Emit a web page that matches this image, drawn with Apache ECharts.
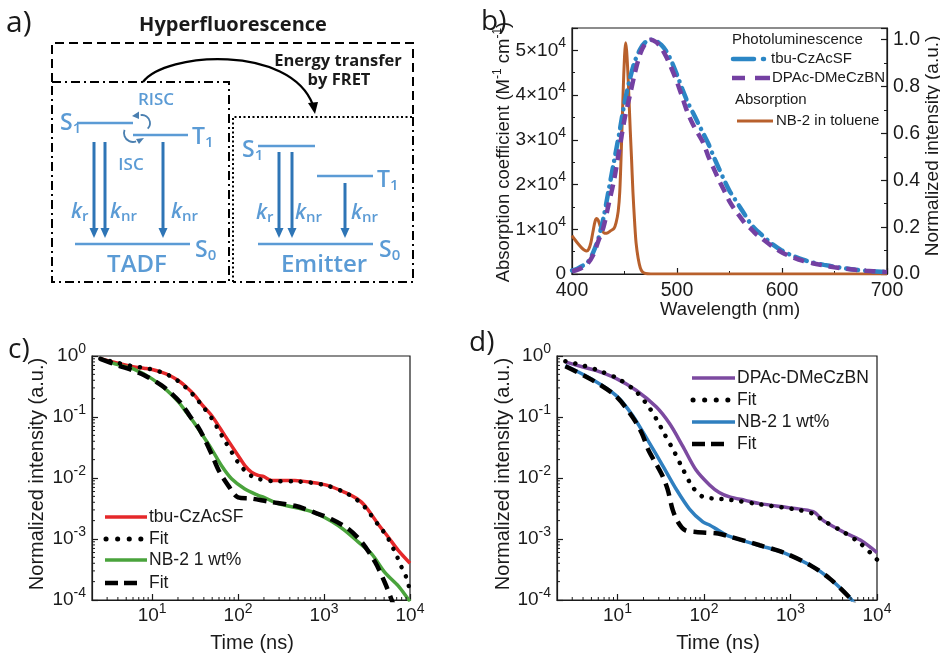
<!DOCTYPE html>
<html><head><meta charset="utf-8">
<script src="https://cdn.jsdelivr.net/npm/echarts@6/dist/echarts.min.js"></script>
<style>html,body{margin:0;padding:0;background:#fff}#c{width:940px;height:654px}</style>
</head><body><div id="c"></div><script>
// ---------- Panel b data ----------
const absWl = [400,403,406,409,412,414,416,418,420,422,423.5,425,427,429,431,434,437,440,442,444,445.5,447,448.7,450,451,452,453,454,455.5,456.7,458,459.8,461,463,465,467,470,475,500,600,700];
const absNB2 = [8600,7600,6700,5900,5300,5150,5600,7000,9500,11800,12400,12000,10600,9600,9100,9200,9700,10200,11500,14000,18400,28000,40700,48500,51700,50000,46000,40700,32000,25800,18500,11000,7000,3500,1400,500,120,0,0,0,0];
const plWl = [400,405,410,415,420,425,430,435,440,445,450,455,460,465,470,475,480,485,490,495,500,505,510,515,520,525,530,535,540,545,550,555,560,565,570,575,580,590,600,610,620,630,640,650,660,670,680,690,700];
const plTbu = [0.015,0.022,0.035,0.05,0.09,0.15,0.24,0.36,0.48,0.6,0.73,0.83,0.91,0.96,0.99,1.0,0.995,0.978,0.95,0.905,0.85,0.79,0.735,0.69,0.645,0.6,0.555,0.5,0.45,0.4,0.355,0.32,0.285,0.25,0.215,0.19,0.17,0.13,0.1,0.078,0.061,0.048,0.039,0.031,0.024,0.018,0.014,0.011,0.008];
const plDPAc = [0.012,0.018,0.028,0.045,0.08,0.14,0.2,0.3,0.4,0.53,0.66,0.76,0.86,0.94,0.985,1.0,0.99,0.965,0.925,0.875,0.82,0.755,0.69,0.64,0.6,0.56,0.5,0.45,0.4,0.355,0.31,0.275,0.245,0.215,0.195,0.172,0.155,0.12,0.092,0.072,0.056,0.045,0.036,0.029,0.023,0.018,0.014,0.011,0.008];

// ---------- Panel c data ----------
const cRedT = [2.5,4,6,8,10,13,16,20,25,31,38,49,58,70,85,100,120,143,171,200,245,458,700,1120,1750,2400,3000,4270,5600,7300,10000];
const cRedI = [0.9,0.76,0.67,0.63,0.6,0.54,0.48,0.4,0.31,0.23,0.16,0.107,0.075,0.05,0.033,0.0234,0.016,0.0125,0.011,0.0105,0.0091,0.0091,0.0085,0.0075,0.0058,0.0046,0.0035,0.00175,0.00107,0.00065,0.0004];
const cFitRedT = [2.5,4,6,8,10,13,16,20,25,31,38,49,58,70,85,100,120,143,171,245,458,700,1120,1750,2400,3000,4270,5400,7000,7940,9100,10000];
const cFitRedI = [0.9,0.77,0.68,0.64,0.6,0.54,0.475,0.39,0.3,0.22,0.155,0.097,0.065,0.041,0.026,0.018,0.0132,0.0108,0.0097,0.0089,0.0088,0.0084,0.0074,0.0058,0.0044,0.0033,0.0017,0.0011,0.00053,0.00035,0.00023,0.00014];
const cGreenT = [2.5,4,6.3,9.8,15,20,25,30,38,49,64,84,120,171,200,293,717,1460,2510,3580,5120,7300,9500,10000];
const cGreenI = [0.9,0.72,0.6,0.43,0.27,0.18,0.12,0.085,0.052,0.03,0.016,0.0097,0.0066,0.0052,0.0048,0.0038,0.0028,0.00166,0.00089,0.00057,0.00028,0.00017,0.000104,0.000095];
const cFitGreenT = [2.5,4,6,8.2,12.9,17,22,28,34.4,42,49,60,77,100,143,224,458,784,1225,1910,2740,3920,5120,6120,7000];
const cFitGreenI = [0.9,0.7,0.58,0.48,0.33,0.24,0.165,0.1,0.068,0.04,0.025,0.013,0.0075,0.0048,0.0046,0.0041,0.0035,0.0027,0.0021,0.00147,0.00089,0.00042,0.00019,0.0001,0.00006];

// ---------- Panel d data ----------
const dPurT = [2.5,4,5.6,9.6,16.4,28,40,57,81,116,150,198,300,441,1070,1830,2400,4100,6410,10000];
const dPurI = [0.8,0.66,0.58,0.43,0.275,0.147,0.078,0.033,0.0135,0.0077,0.0058,0.0049,0.0043,0.0038,0.0032,0.0028,0.002,0.0013,0.00096,0.0006];
const dFitPurT = [2.5,4,6,10,16,22,28,34.8,45.6,57,74,97,132,200,441,1070,1830,2400,4100,6410,10000];
const dFitPurI = [0.82,0.7,0.58,0.43,0.27,0.16,0.094,0.053,0.0265,0.014,0.0071,0.0049,0.0046,0.0044,0.0037,0.0031,0.0026,0.002,0.0013,0.00085,0.00046];
const dBlueT = [2.5,5,9.6,14.9,23,33.3,47.6,68,97,116,145,198,441,830,1700,2890,5000,5600];
const dBlueI = [0.7,0.42,0.226,0.107,0.039,0.016,0.0066,0.0031,0.0019,0.0017,0.0014,0.0011,0.00078,0.0006,0.00037,0.00022,0.000104,0.00008];
const dFitBlueT = [2.5,5,9.6,14.9,19,23,28,33,38,43.5,50,60,81,145,198,441,830,1700,2890,5000,5600];
const dFitBlueI = [0.68,0.41,0.22,0.1,0.055,0.028,0.017,0.011,0.0065,0.003,0.0019,0.0014,0.0013,0.00123,0.0011,0.00079,0.0006,0.00037,0.00022,0.000104,0.00008];

const legendB = ['tbu-CzAcSF','DPAc-DMeCzBN','NB-2 in toluene'];
const legendC = ['tbu-CzAcSF','Fit','NB-2 1 wt%','Fit'];
const legendD = ['DPAc-DMeCzBN','Fit','NB-2 1 wt%','Fit'];

// ---------- style ----------
const FF = '"Liberation Sans", Arial, sans-serif';
const FA = '"Open Sans", sans-serif';
const AX = '#1a1a1a';
const LB = '#5b9bd5', AB = '#2e75b6';
const C = {orange:'#b8602c', bBlue:'#2b86c5', bPur:'#7440a2', red:'#e5282a', green:'#4aa33c', dPur:'#7c4aa0', dBlue:'#2f7fbf'};

function zip(a,b){ return a.map((v,i)=>[v,b[i]]); }
const richPow = {
  b:{fontSize:19,fontFamily:FF,color:AX,lineHeight:28},
  s:{fontSize:14,fontFamily:FF,color:AX,verticalAlign:'top',lineHeight:13}
};
function powLabel(v){ const e = Math.round(Math.log10(v)); return '{b|10}{s|' + e + '}'; }
function sciLabel(v){ if (v === 0) return '{b|0}'; return '{b|' + Math.round(v/1e4) + '×10}{s|4}'; }

const axLine = {show:true, lineStyle:{color:AX, width:1.2}};
const tickIn = {show:true, inside:true, length:6, lineStyle:{color:AX, width:1.2}};
const minor = {show:true, splitNumber:2, length:3, lineStyle:{color:AX, width:1}};

function line(name, xi, yi, data, color, width, type, cap){
  return {type:'line', name, xAxisIndex:xi, yAxisIndex:yi, data, showSymbol:false, symbol:'none',
    smooth:0.3, lineStyle:{color, width, type:type||'solid', cap:cap||'butt'}, itemStyle:{color}, animation:false};
}
function logTicks(xi, yi, xr, yr){
  return {type:'custom', xAxisIndex:xi, yAxisIndex:yi, silent:true, clip:false, z:10, animation:false,
    data:[[10, 0.01]],
    renderItem:function(params, api){
      const ch = [];
      for (let e = -5; e <= 5; e++) for (let m = 2; m <= 9; m++) {
        const v = m * Math.pow(10, e);
        if (v > xr[0] && v < xr[1]) { const p = api.coord([v, yr[0]]);
          ch.push({type:'line', shape:{x1:p[0],y1:p[1],x2:p[0],y2:p[1]-3}, style:{stroke:AX,lineWidth:1}}); }
        if (v > yr[0] && v < yr[1]) { const p = api.coord([xr[0], v]);
          ch.push({type:'line', shape:{x1:p[0],y1:p[1],x2:p[0]+3,y2:p[1]}, style:{stroke:AX,lineWidth:1}}); }
      }
      return {type:'group', children:ch};
    }};
}

// ---------- graphic helpers ----------
function txt(x,y,text,font,fill,align,rot){
  const o = {type:'text', x, y, silent:true, style:{text, font, fill:fill||AX, textAlign:align||'left', textVerticalAlign:'middle'}};
  if (rot) o.rotation = rot;
  return o;
}
function richTxt(x,y,text,rich,align,rot){
  const o = {type:'text', x, y, silent:true, style:{text, rich, textAlign:align||'left', textVerticalAlign:'middle'}};
  if (rot) o.rotation = rot;
  return o;
}
function seg(x1,y1,x2,y2,stroke,w,dash,cap){
  return {type:'line', silent:true, shape:{x1,y1,x2,y2}, style:{stroke, lineWidth:w, lineDash:dash||null, lineCap:cap||'butt'}};
}
function poly(points, stroke, w, dash){
  return {type:'polyline', silent:true, shape:{points}, style:{stroke, lineWidth:w, lineDash:dash||null, fill:null}};
}
function lvl(x1,y,x2){ return seg(x1,y,x2,y,LB,2.5); }
function arr(x,y1,y2){
  return [seg(x,y1,x,y2-8,AB,3),
    {type:'polygon', silent:true, shape:{points:[[x-4.5,y2-10],[x+4.5,y2-10],[x,y2]]}, style:{fill:AB}}];
}
function stLabel(x,y,m,s){
  return richTxt(x,y,'{m|'+m+'}{s|'+s+'}', {
    m:{fontSize:23,fontFamily:FA,fontWeight:600,fill:LB,lineHeight:26},
    s:{fontSize:15,fontFamily:FA,fontWeight:600,fill:LB,verticalAlign:'bottom',lineHeight:12}});
}
function kLabel(x,y,s){
  return richTxt(x,y,'{m|k}{s|'+s+'}', {
    m:{fontSize:21,fontFamily:FA,fontStyle:'italic',fontWeight:600,fill:LB,lineHeight:24},
    s:{fontSize:15,fontFamily:FA,fontWeight:600,fill:LB,verticalAlign:'bottom',lineHeight:11}});
}

const G = [];
// ----- panel a -----
G.push(txt(6,23,'a)','30px '+FA,AX));
G.push(txt(233,25,'Hyperfluorescence','bold 20px '+FA,AX,'center'));
G.push(poly([[52,82],[52,43],[413,43],[413,117]], '#000', 2, [9,5]));
G.push(poly([[52,82],[229,82],[229,282],[52,282],[52,82]], '#000', 2, [9,4,2,4]));
G.push(poly([[233,282],[233,117],[413,117]], '#000', 2, [2,2.5]));
G.push(poly([[413,117],[413,282],[233,282]], '#000', 2, [9,4,2,4]));
G.push({type:'bezierCurve', silent:true, shape:{x1:143,y1:82,cpx1:165,cpy1:52,cpx2:290,cpy2:44,x2:313,y2:105}, style:{stroke:'#000',lineWidth:2.2,fill:null}});
G.push({type:'polygon', silent:true, shape:{points:[[315,114],[308,103],[318,102]]}, style:{fill:'#000'}});
G.push(txt(338,61,'Energy transfer','bold 16.5px '+FA,AX,'center'));
G.push(txt(339,80,'by FRET','bold 16.5px '+FA,AX,'center'));
// TADF
G.push(stLabel(60,123,'S','1'));
G.push(lvl(77,123,133));
G.push(lvl(133,135,188));
G.push(stLabel(192,137,'T','1'));
G.push(txt(156,100,'RISC','600 17px '+FA,LB,'center'));
G.push(txt(131,165,'ISC','600 17px '+FA,LB,'center'));
G.push({type:'arc', silent:true, shape:{cx:142,cy:123,r:8,startAngle:-100*Math.PI/180,endAngle:45*Math.PI/180,clockwise:true}, style:{stroke:'#4a7fb0',lineWidth:1.8,fill:null}});
G.push({type:'polygon', silent:true, shape:{points:[[132,116],[139,111.5],[139,119]]}, style:{fill:'#4a7fb0'}});
G.push({type:'arc', silent:true, shape:{cx:133,cy:133,r:9,startAngle:70*Math.PI/180,endAngle:200*Math.PI/180,clockwise:true}, style:{stroke:'#4a7fb0',lineWidth:1.8,fill:null}});
G.push({type:'polygon', silent:true, shape:{points:[[144,138],[136,139],[139,144]]}, style:{fill:'#4a7fb0'}});
G.push(...arr(94,142,238), ...arr(105,142,238), ...arr(163,142,238));
G.push(lvl(75,244,190));
G.push(stLabel(195,250,'S','0'));
G.push(kLabel(71,212,'r'), kLabel(110,212,'nr'), kLabel(171,212,'nr'));
G.push(txt(137,265,'TADF','600 24px '+FA,LB,'center'));
// Emitter
G.push(stLabel(242,150,'S','1'));
G.push(lvl(258,146,315));
G.push(lvl(317,176,373));
G.push(stLabel(377,180,'T','1'));
G.push(...arr(279,152,238), ...arr(292,152,238), ...arr(345,183,238));
G.push(lvl(258,244,373));
G.push(stLabel(379,250,'S','0'));
G.push(kLabel(256,213,'r'), kLabel(295,213,'nr'), kLabel(351,213,'nr'));
G.push(txt(324,265,'Emitter','600 24px '+FA,LB,'center'));

// ----- panel b texts -----
G.push(txt(481,22,'b)','28px '+FA,AX));
G.push(richTxt(504,152,'{t|Absorption coefficient (M}{p|-1}{t| cm}{p|-1}{t|)}', {
  t:{fontSize:18.5,fontFamily:FF,fill:AX,lineHeight:24}, p:{fontSize:12,fontFamily:FF,fill:AX,verticalAlign:'top',lineHeight:10}}, 'center', Math.PI/2));
G.push(txt(933,146,'Normalized intensity (a.u.)','19px '+FF,AX,'center',Math.PI/2));
G.push(txt(730,310,'Wavelength (nm)','18.5px '+FF,AX,'center'));
G.push(txt(732,40,'Photoluminescence','15px '+FF,AX));
G.push(seg(733,59,754,59,C.bBlue,4.5,null,'round'));
G.push(seg(763,59,764,59,C.bBlue,4.5,null,'round'));
G.push(txt(771,59,legendB[0],'15px '+FF,AX));
G.push(seg(732,78,745,78,C.bPur,4.5));
G.push(seg(755,78,770,78,C.bPur,4.5));
G.push(txt(772,78,legendB[1],'15px '+FF,AX));
G.push(txt(735,100,'Absorption','15px '+FF,AX));
G.push(seg(737,121,773,121,C.orange,3));
G.push(txt(776,121,legendB[2],'15px '+FF,AX));

// ----- panel c texts -----
G.push(txt(8,350,'c)','28px '+FA,AX));
G.push(txt(37,474,'Normalized intensity (a.u.)','20px '+FF,AX,'center',Math.PI/2));
G.push(txt(252,643,'Time (ns)','20px '+FF,AX,'center'));
const cLegY = [517,539,560,583];
G.push(seg(105,cLegY[0],147,cLegY[0],C.red,3.5));
G.push(seg(106,cLegY[1],143,cLegY[1],'#000',5,[0.1,11.5],'round'));
G.push(seg(105,cLegY[2],147,cLegY[2],C.green,3.5));
G.push(seg(105,cLegY[3],137,cLegY[3],'#000',4.5,[13,6]));
legendC.forEach((s,i)=>G.push(txt(149,cLegY[i],s,'17.5px '+FF,AX)));

// ----- panel d texts -----
G.push(txt(469,343,'d)','28px '+FA,AX));
G.push(txt(503,474,'Normalized intensity (a.u.)','20px '+FF,AX,'center',Math.PI/2));
G.push(txt(718,643,'Time (ns)','20px '+FF,AX,'center'));
const dLegY = [378,400,422,444];
G.push(seg(692,dLegY[0],735,dLegY[0],C.dPur,3.5));
G.push(seg(693,dLegY[1],731,dLegY[1],'#000',5,[0.1,11.5],'round'));
G.push(seg(692,dLegY[2],735,dLegY[2],C.dBlue,3.5));
G.push(seg(692,dLegY[3],725,dLegY[3],'#000',4.5,[13,6]));
legendD.forEach((s,i)=>G.push(txt(737,dLegY[i],s,'17.5px '+FF,AX)));

const logX = (gi) => ({gridIndex:gi, type:'log', logBase:10, min:2, max:10000,
  axisLine:axLine, axisTick:tickIn, splitLine:{show:false},
  axisLabel:{formatter:powLabel, rich:richPow, margin:2, showMinLabel:false}});
const logY = (gi) => ({gridIndex:gi, type:'log', logBase:10, min:1e-4, max:1,
  axisLine:axLine, axisTick:tickIn, splitLine:{show:false},
  axisLabel:{formatter:powLabel, rich:richPow, margin:6}});

const option = {
  animation:false,
  backgroundColor:'#fff',
  grid:[
    {left:572, top:28, width:315, height:246, show:true, borderColor:AX, borderWidth:1.2},
    {left:92, top:356, width:318, height:244, show:true, borderColor:AX, borderWidth:1.2},
    {left:557, top:356, width:320, height:244, show:true, borderColor:AX, borderWidth:1.2}
  ],
  xAxis:[
    {gridIndex:0, type:'value', min:400, max:700, interval:100, axisLine:axLine, axisTick:tickIn, minorTick:minor,
     splitLine:{show:false}, axisLabel:{fontSize:19.5, fontFamily:FF, color:AX, margin:7}},
    logX(1), logX(2)
  ],
  yAxis:[
    {gridIndex:0, type:'value', position:'left', min:0, max:55000, interval:10000, axisLine:axLine, axisTick:tickIn,
     minorTick:minor, splitLine:{show:false},
     axisLabel:{formatter:sciLabel, rich:richPow, margin:6, showMaxLabel:false}},
    {gridIndex:0, type:'value', position:'right', min:0, max:1.05, interval:0.2, axisLine:axLine, axisTick:tickIn,
     minorTick:minor, splitLine:{show:false},
     axisLabel:{formatter:(v)=>v.toFixed(1), fontSize:19.5, fontFamily:FF, color:AX, margin:6, showMaxLabel:false}},
    logY(1), logY(2)
  ],
  series:[
    line('NB-2 in toluene',0,0,zip(absWl,absNB2),C.orange,3),
    line('tbu-CzAcSF',0,1,zip(plWl,plTbu),C.bBlue,4.5,[12,7,0.1,7],'round'),
    line('DPAc-DMeCzBN',0,1,zip(plWl,plDPAc),C.bPur,4.5,[11,7]),
    line('tbu-CzAcSF',1,2,zip(cRedT,cRedI),C.red,3.5),
    line('NB-2 1 wt%',1,2,zip(cGreenT,cGreenI),C.green,3.5),
    line('Fit',1,2,zip(cFitRedT,cFitRedI),'#000',4.5,[0.1,10],'round'),
    line('Fit',1,2,zip(cFitGreenT,cFitGreenI),'#000',4.5,[13,7]),
    line('DPAc-DMeCzBN',2,3,zip(dPurT,dPurI),C.dPur,3.5),
    line('NB-2 1 wt%',2,3,zip(dBlueT,dBlueI),C.dBlue,3.5),
    line('Fit',2,3,zip(dFitPurT,dFitPurI),'#000',4.5,[0.1,10],'round'),
    line('Fit',2,3,zip(dFitBlueT,dFitBlueI),'#000',4.5,[13,7]),
    logTicks(1,2,[2,10000],[1e-4,1]),
    logTicks(2,3,[2,10000],[1e-4,1])
  ],
  graphic:G
};
const chart = echarts.init(document.getElementById('c'), null, {renderer:'canvas'});
chart.setOption(option);
</script></body></html>
